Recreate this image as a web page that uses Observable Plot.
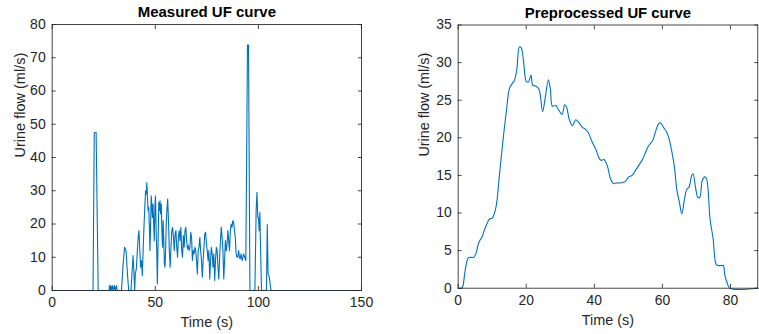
<!DOCTYPE html>
<html>
<head>
<meta charset="utf-8">
<script src="https://cdn.jsdelivr.net/npm/d3@7"></script>
<script src="https://cdn.jsdelivr.net/npm/@observablehq/plot@0.6"></script>
<style>
  html, body { margin: 0; padding: 0; background: #fff; overflow: hidden; }
  #wrap { position: relative; width: 759px; height: 334px; overflow: hidden; }
  #left, #right { position: absolute; top: 0; }
  #left { left: 0; }
  #right { left: 380px; }
</style>
</head>
<body>
<div id="wrap"><div id="left"></div><div id="right"></div></div>
<script>
// ---- Measured UF curve (left) ----
const measuredTime = [0,19.8,20.4,21.3,22.3,27.6,27.8,28.1,28.5,28.9,29.3,29.7,30.2,30.6,31.2,31.5,33.6,34.4,35.1,35.8,36.5,37.1,38.2,38.6,39.2,39.6,40.0,40.3,40.8,41.3,41.7,42.1,42.5,42.9,43.3,43.7,44.1,44.5,44.9,45.3,45.6,45.9,46.2,46.5,46.8,47.1,47.4,47.7,48.0,48.3,48.6,48.9,49.2,49.5,49.8,50.1,50.4,50.7,51.0,51.3,51.7,52.0,52.3,52.6,52.9,53.2,53.5,53.8,54.1,54.4,54.7,55.0,55.3,55.6,56.0,56.4,56.8,57.2,57.6,58.0,58.4,58.8,59.2,59.6,60.0,60.4,60.8,61.2,61.6,62.0,62.4,62.8,63.2,63.6,64.0,64.4,64.8,65.2,65.6,66.0,66.4,66.8,67.2,67.6,68.0,68.4,68.8,69.2,69.6,70.0,70.4,70.8,71.2,71.6,72.0,72.4,72.8,73.2,73.6,74.0,74.4,74.8,75.2,75.6,76.0,76.4,76.8,77.2,77.6,78.0,78.4,78.8,79.2,79.6,80.0,80.4,80.8,81.2,81.6,82.0,82.4,82.8,83.2,83.6,84.0,84.4,84.8,85.2,85.6,86.0,86.4,86.8,87.2,87.6,88.0,88.4,88.8,89.2,89.6,90.0,90.4,90.8,91.2,91.6,92.2,92.8,93.4,93.9,94.3,94.7,95.2,95.9,98.3,98.9,99.3,99.7,100.0,100.4,100.7,101.0,101.5,103.9,104.3,104.7,105.3,106.0,106.3,150];
const measuredFlow = [0,0,47.5,47.5,0,0,1.5,0,1.5,0,1.5,0,1.5,0,1.5,0,0,8,13,12,5,0,0,4,10.5,6,0,5,6.5,12,16,18,12,7,9,4.5,12,19,25,30,29,32.5,28,24,25,20,12,19,28.5,26,22,26,20,15,25,28.5,18,12,2,13,26.5,24,27,23,26,18,13,21,15,8,7,12,20,24,27.5,21,12,7,13,18,19,16,12,17,18,13,10,16,18,15,19,12,10,16.5,13,18,19,15,12.5,13.5,12,13,17.5,16,9,12,11,13,12,9,5,12,13,16,12,9,4,9,13,17,17.5,14,12,9,12,3.5,9,13,11,7,11,3,9,13,12,7,3.5,10,15,19,16,12,3.5,9,15,12,14,18,15,12,18,20,19,21,20.5,18,16,11,10,10,12,10,9.5,11,9,11,10,9,40,73.8,73.8,0,0,24,29.5,22,22,18,23.5,14,0,0,19.8,5,4,0.5,0,0];

// ---- Preprocessed UF curve (right) ----
const prepTime = [0,1.0,1.4,2.0,2.9,3.5,4.5,5.2,5.8,6.3,7.0,7.6,8.3,9.2,10.0,10.6,11.2,12.2,13.1,14.1,15.1,16.0,16.5,17.2,18.0,18.5,19.2,20.0,20.6,21.4,21.9,22.7,23.7,24.8,25.5,26.5,27.1,27.7,28.7,29.4,30.5,31.3,31.9,32.6,33.6,34.5,35.5,36.5,37.5,38.2,39.4,40.4,41.4,42.0,42.8,43.8,44.8,45.7,46.4,47.7,49.1,50.1,51.1,52.0,53.0,54.0,55.0,55.9,57.1,57.9,58.9,59.4,60.3,61.3,62.0,62.8,63.6,64.2,65.0,65.7,66.5,67.2,67.8,68.6,69.0,69.8,70.4,71.0,71.7,72.5,73.0,74.0,74.9,75.9,76.9,77.9,78.3,79.1,79.8,88];
const prepFlow = [0,0,0.3,2.2,4.0,4.1,4.1,4.6,5.7,6.3,6.8,7.6,8.4,9.2,9.3,9.9,11.0,15.4,19.4,23.3,26.6,27.3,27.6,29.0,32.1,32.0,30.2,27.5,27.4,28.3,27.0,26.9,26.5,23.5,25.1,27.7,26.4,24.2,24.3,23.8,23.1,24.4,24.0,22.5,21.6,22.4,22.0,21.4,21.1,20.7,19.4,18.5,17.3,17.0,17.1,16.3,14.5,13.9,14.0,14.0,14.2,14.8,15.0,15.6,16.3,17.0,18.0,18.9,19.6,20.7,21.9,22.0,21.4,20.7,19.8,18.1,15.9,13.2,11.4,9.9,11.9,13.2,13.4,15.0,15.2,13.2,12.1,12.1,14.3,14.8,14.5,9.2,6.6,3.1,3.0,3.0,1.8,0.6,0,0];

const leftXTicks = [0, 50, 100, 150];
const leftYTicks = [0, 10, 20, 30, 40, 50, 60, 70, 80];
const rightXTicks = [0, 20, 40, 60, 80];
const rightYTicks = [0, 5, 10, 15, 20, 25, 30, 35];

const lineColor = "#0072BD";
const axisColor = "#262626";
const font = "'Liberation Sans', Arial, Helvetica, sans-serif";

function panel({time, flow, xDomain, yDomain, xTicks, yTicks, title, width, mL, mR, mT, mB, curve, ylabelX}) {
  const data = time.map((t, i) => ({t, v: flow[i]}));
  return Plot.plot({
    width, height: 334,
    marginLeft: mL, marginRight: mR, marginTop: mT, marginBottom: mB,
    style: {fontFamily: font, fontSize: "14px", color: axisColor, background: "transparent", overflow: "visible"},
    x: {domain: xDomain},
    y: {domain: yDomain},
    marks: [
      Plot.line(data, {x: "t", y: "v", stroke: lineColor, strokeWidth: 1.1, curve}),
      Plot.frame({stroke: axisColor, strokeWidth: 1, strokeOpacity: 0.85}),
      Plot.axisX(xTicks, {anchor: "bottom", tickSize: -4, tickPadding: 11, label: null, stroke: axisColor, strokeOpacity: 0.85}),
      Plot.axisX(xTicks, {anchor: "top", tickSize: -4, tickFormat: () => "", label: null, stroke: axisColor, strokeOpacity: 0.85}),
      Plot.axisY(yTicks, {anchor: "left", tickSize: -4, tickPadding: 10.5, label: null, stroke: axisColor, strokeOpacity: 0.85}),
      Plot.axisY(yTicks, {anchor: "right", tickSize: -4, tickFormat: () => "", label: null, stroke: axisColor, strokeOpacity: 0.85}),
      Plot.text([title], {text: d => d, frameAnchor: "top", lineAnchor: "middle", dy: -12, fontWeight: "bold", fontSize: 15, fill: "#000"}),
      Plot.text(["Time (s)"], {text: d => d, frameAnchor: "bottom", lineAnchor: "middle", dy: 32, fontSize: 14.5, fill: axisColor}),
      Plot.text(["Urine flow (ml/s)"], {text: d => d, frameAnchor: "left", lineAnchor: "middle", dx: -(mL - ylabelX), rotate: -90, fontSize: 14.5, fill: axisColor})
    ]
  });
}

document.getElementById("left").append(panel({
  time: measuredTime, flow: measuredFlow, xDomain: [0, 150], yDomain: [0, 80],
  xTicks: leftXTicks, yTicks: leftYTicks, title: "Measured UF curve",
  width: 380, mL: 51.7, mR: 19, mT: 24, mB: 44, curve: "linear", ylabelX: 20
}));

document.getElementById("right").append(panel({
  time: prepTime, flow: prepFlow, xDomain: [0, 88], yDomain: [0, 35],
  xTicks: rightXTicks, yTicks: rightYTicks, title: "Preprocessed UF curve",
  width: 382, mL: 78.3, mR: 1.8, mT: 24.7, mB: 44, curve: "catmull-rom", ylabelX: 44
}));
</script>
</body>
</html>
